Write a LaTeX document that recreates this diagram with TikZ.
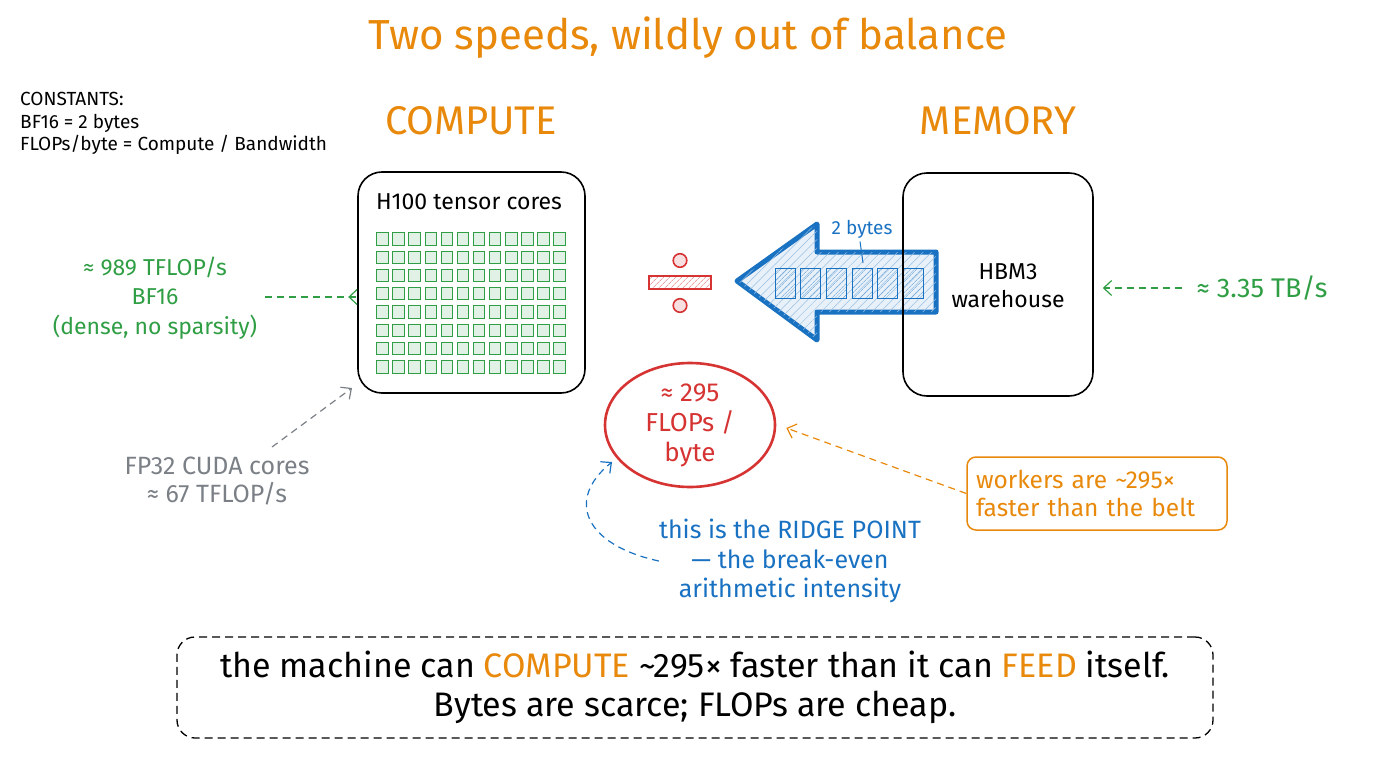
\documentclass[tikz,border=0pt]{standalone}
\usepackage{fontspec}
\setmainfont{Fira Sans}
\usetikzlibrary{shapes.geometric,arrows.meta,patterns.meta,calc}
\definecolor{cOr}{HTML}{E8890C}
\definecolor{cGr}{HTML}{2F9E44}
\definecolor{cBl}{HTML}{1971C2}
\definecolor{cRd}{HTML}{D63333}
\definecolor{cGy}{HTML}{7B8086}
\newcommand{\fs}[2]{\fontsize{#1}{#2}\selectfont}
\begin{document}
\begin{tikzpicture}[x=1pt,y=-1pt,
  bigbox/.style={draw=black,line width=1.6pt,rounded corners=24pt,inner sep=0pt},
  cellbox/.style={draw=cGr,line width=0.9pt,fill=cGr!14},
  bytecell/.style={draw=cBl,line width=1pt,pattern={Lines[angle=45,distance=4pt,line width=0.6pt]},pattern color=cBl!70},
  lbl/.style={inner sep=0pt,align=center},
  barb/.style={-{Straight Barb[length=8pt,width=15pt,line width=1.2pt]}},
  dsh/.style={dash pattern=on 7pt off 5pt,line width=1.2pt},
]
\useasboundingbox (0,0) rectangle (1376,768);

% title and headers
\node[lbl,text=cOr,font=\fs{42}{48}] (title) at (688,38) {Two speeds, wildly out of balance};
\node[lbl,text=cOr,font=\fs{40}{46}] (hcomp) at (471,121) {COMPUTE};
\node[lbl,text=cOr,font=\fs{40}{46}] (hmem) at (998,121) {MEMORY};

% constants
\node[lbl,align=left,anchor=north west,font=\fs{19}{22.5}] (consts) at (20,92)
  {CONSTANTS:\\BF16 = 2 bytes\\FLOPs/byte = Compute / Bandwidth};

% blue arrow (drawn before memory box)
\draw[cBl,line width=5pt,line join=round,fill=cBl!10,
      postaction={pattern={Lines[angle=45,distance=6pt,line width=0.5pt]},pattern color=cBl!45}]
  (737,281) -- (817,224) -- (817,252) -- (936,252) -- (936,312) -- (817,312) -- (817,340) -- cycle;
\foreach \k in {0,...,5}
  \draw[bytecell] ({775+25.7*\k},268) rectangle ++(20,30);
\node[lbl,text=cBl,font=\fs{19}{22}] (twob) at (862,229) {2 bytes};
\coordinate (twobtip) at (863,263);
\draw[cBl,line width=1pt] (twob.south) ++(-2,3) -- (twobtip);

% compute box
\node[bigbox,minimum width=227pt,minimum height=221pt] (compute) at (471.5,282.5) {};
\node[lbl,font=\fs{23}{26}] (h100) at (469,202) {H100 tensor cores};
\foreach \i in {0,...,11}
  \foreach \j in {0,...,7}
    \draw[cellbox] ({376.7+16.1*\i},{232.7+18.3*\j}) rectangle ++(11.5,12.3);

% memory box
\node[bigbox,minimum width=190pt,minimum height=223pt] (memory) at (998,284.5) {};
\node[lbl,font=\fs{23}{28}] (hbm) at (1008,286) {HBM3\\warehouse};

% divide sign
\draw[cRd,line width=1.6pt,pattern={Lines[angle=45,distance=4pt,line width=0.5pt]},pattern color=cRd!70]
  (649,276) rectangle (711,289);
\draw[cRd,line width=1.6pt,fill=cRd!15] (680,260.5) circle (6.8);
\draw[cRd,line width=1.6pt,fill=cRd!15] (680,305.5) circle (6.8);

% ridge ellipse
\node[ellipse,draw=cRd,line width=2.6pt,minimum width=170pt,minimum height=124pt,inner sep=0pt,
      text=cRd,align=center,font=\fs{26}{30}] (ridgec) at (690,425) {≈ 295\\FLOPs /\\byte};

% left green text
\node[lbl,text=cGr,font=\fs{23}{29.5}] (gleft) at (155,298) {≈ 989 TFLOP/s\\BF16\\(dense, no sparsity)};
\coordinate (gstart) at (265,297);
\draw[cGr,dsh,barb] (gstart) -- (gstart -| compute.west) -- ++(-9,0);

% gray text
\node[lbl,text=cGy,font=\fs{25}{28.5}] (gray) at (217,481) {FP32 CUDA cores\\≈ 67 TFLOP/s};
\coordinate (gystart) at (272,447);
\coordinate (gyend) at (352,388);
\draw[cGy,dsh,barb] (gystart) -- (gyend);

% right green text
\node[lbl,text=cGr,font=\fs{27}{30}] (gright) at (1262,288) {≈ 3.35 TB/s};
\coordinate (grstart) at (1182,288);
\draw[cGr,dsh,barb] (grstart) -- ($(memory.east|-grstart)+(9,0)$);

% workers box
\node[draw=cOr,line width=1.5pt,rounded corners=9pt,minimum width=260pt,minimum height=73pt,
      text=cOr,align=left,text width=242pt,inner sep=0pt,font=\fs{24.5}{28}] (workers) at (1097,493.5)
  {workers are \textasciitilde295×\\faster than the belt};
\draw[cOr,dsh,barb] (workers.west) -- ($(ridgec.east)+(10,3)$);

% ridge text
\node[lbl,text=cBl,font=\fs{25}{29.5}] (ridget) at (790,561)
  {this is the RIDGE POINT\\— the break-even\\arithmetic intensity};
\coordinate (ridgetip) at (612,462);
\draw[cBl,dsh,barb] (ridget.west) .. controls (585,545) and (565,500) .. (ridgetip);

% bottom box
\node[draw=black,line width=1.3pt,dash pattern=on 8pt off 5pt,rounded corners=18pt,
      minimum width=1036pt,minimum height=101pt,align=center,inner sep=0pt,font=\fs{34}{39}] (bottom) at (695,687.5)
  {the machine can \textcolor{cOr}{COMPUTE} \textasciitilde295× faster than it can \textcolor{cOr}{FEED} itself.\\Bytes are scarce; FLOPs are cheap.};
\end{tikzpicture}
\end{document}
